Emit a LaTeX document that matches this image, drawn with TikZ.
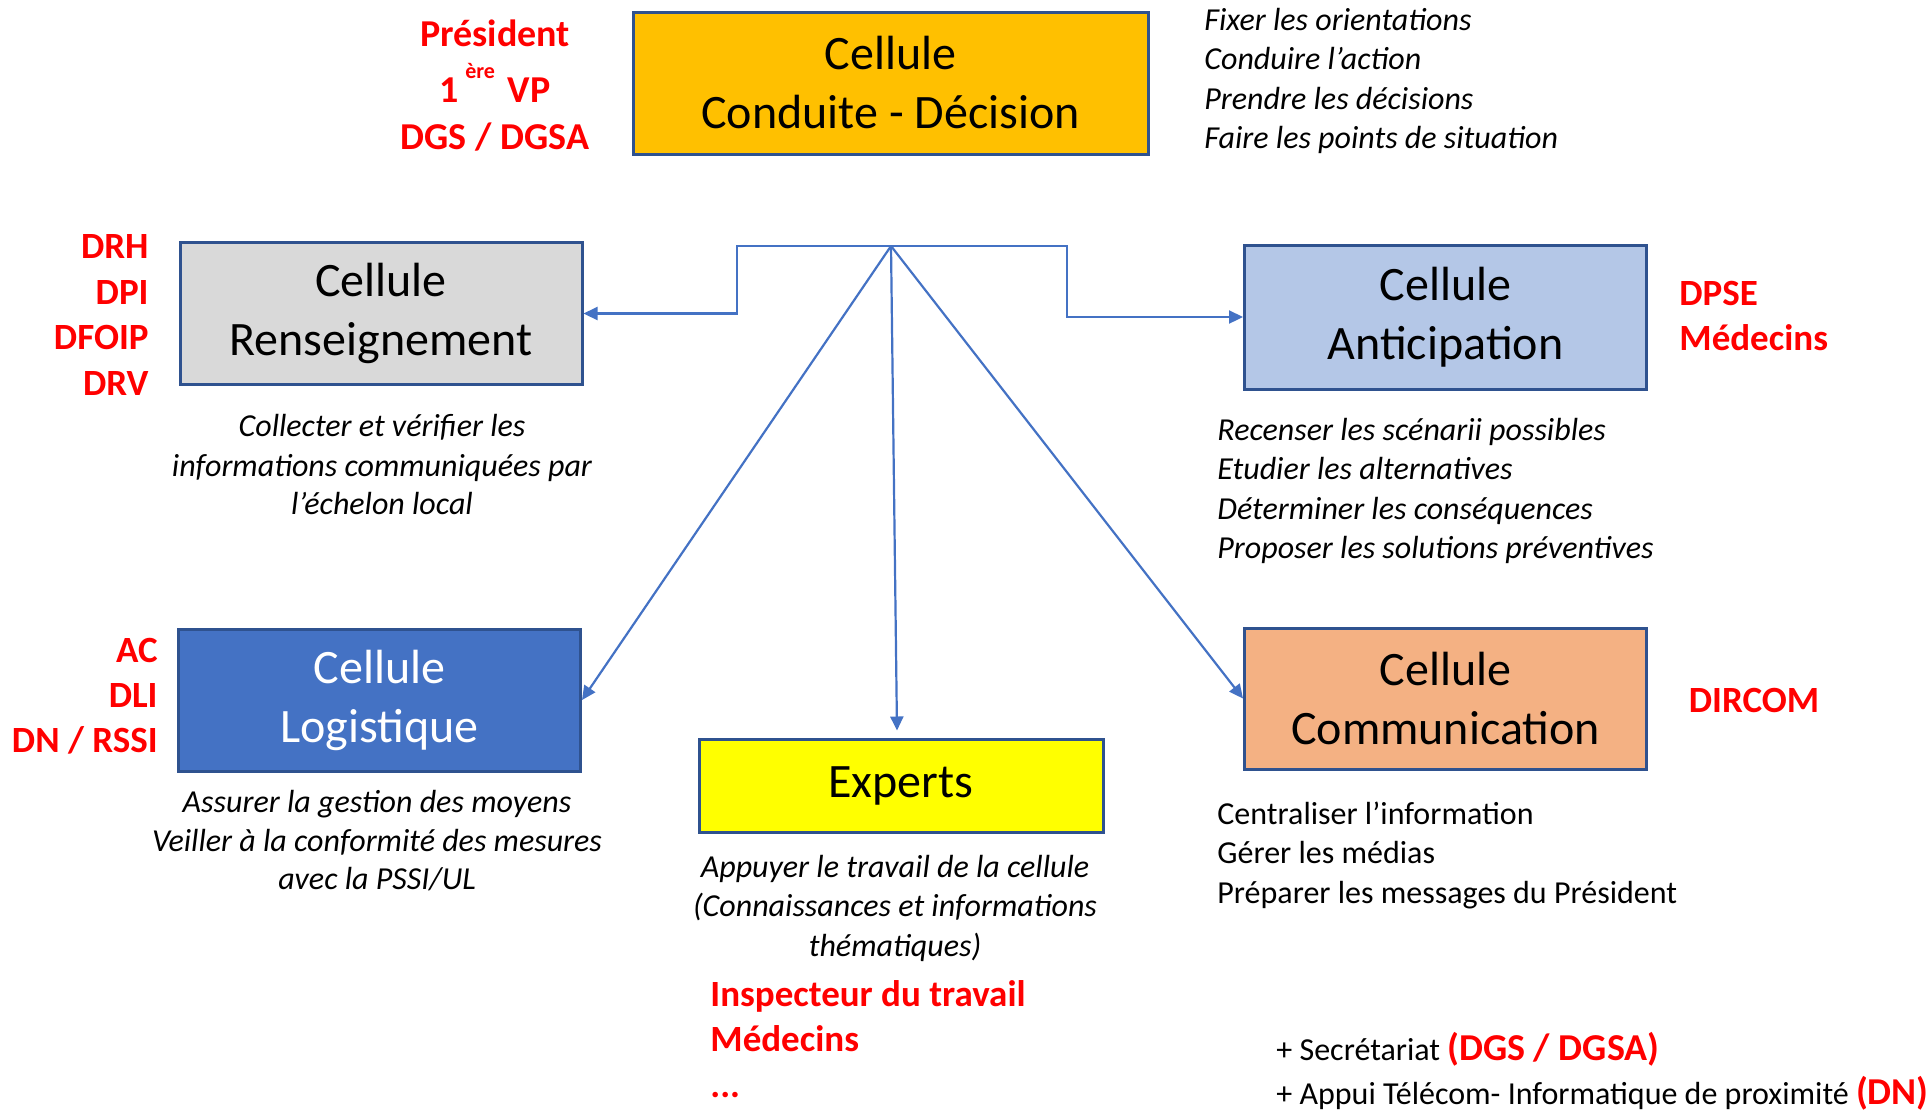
\documentclass[tikz,border=0pt]{standalone}
\usepackage{fontspec}
\setmainfont{Carlito}
\usetikzlibrary{arrows.meta,calc}
\definecolor{boxedge}{HTML}{2F528F}
\definecolor{linkblue}{HTML}{4472C4}
\definecolor{cgold}{HTML}{FFC000}
\definecolor{cgrey}{HTML}{D9D9D9}
\definecolor{clight}{HTML}{B4C7E7}
\definecolor{cblue}{HTML}{4472C4}
\definecolor{cyellow}{HTML}{FFFF00}
\definecolor{corange}{HTML}{F4B183}
\definecolor{tred}{HTML}{FF0000}
\begin{document}
\begin{tikzpicture}[x=0.5pt,y=-0.5pt,
  cellbox/.style={draw=boxedge, line width=1.5pt, minimum width=201pt,
    minimum height=71pt, inner sep=0pt, align=center,
    font=\fontsize{24}{29.5}\selectfont},
  redlbl/.style={text=tred, inner sep=0pt, font=\bfseries\fontsize{18.5}{22.75}\selectfont},
  toplbl/.style={redlbl, font=\bfseries\fontsize{19}{23}\selectfont, anchor=base},
  desc/.style={inner sep=0pt, font=\itshape\fontsize{16}{19.5}\selectfont},
  plain/.style={inner sep=0pt, font=\fontsize{16}{19.5}\selectfont},
  arr/.style={draw=linkblue, line width=1.1pt, -{Triangle[length=7pt,width=6.5pt]}}]
\useasboundingbox (0,0) rectangle (1930,1110);

% cells
\node[cellbox, fill=cgold, minimum width=257.5pt] (cond) at (890.5,83) {Cellule\\Conduite - Décision};
\node[cellbox, fill=cgrey] (rens) at (381,313.5) {Cellule\\Renseignement};
\node[cellbox, fill=clight, minimum height=72pt] (antic) at (1445.5,317) {Cellule\\Anticipation};
\node[cellbox, fill=cblue, text=white] (logi) at (379.5,700) {Cellule\\Logistique};
\node[cellbox, fill=cyellow, minimum width=202pt, minimum height=46.5pt] (exp) at (901,785.5) {Experts};
\node[cellbox, fill=corange, minimum height=70.5pt] (comm) at (1445.5,698.5) {Cellule\\Communication};

% leadership labels
\node[toplbl] (pres) at (495,46) {Président};
\node[toplbl] (vp) at (495,102) {1\,\raisebox{0.62em}{\fontsize{11}{11}\selectfont ère}\,\,VP};
\node[toplbl] (dgs) at (495,149) {DGS / DGSA};

\node[desc, anchor=base west] (c1) at (1204,30) {Fixer les orientations};
\node[desc, anchor=base west] (c2) at (1204,69) {Conduire l’action};
\node[desc, anchor=base west] (c3) at (1204,109) {Prendre les décisions};
\node[desc, anchor=base west] (c4) at (1204,148) {Faire les points de situation};

% renseignement
\node[redlbl, anchor=base east] (drh) at (149,258) {DRH};
\node[redlbl, anchor=base east] (dpi) at (149,304) {DPI};
\node[redlbl, anchor=base east] (dfoip) at (149,349) {DFOIP};
\node[redlbl, anchor=base east] (drv) at (149,395) {DRV};
\node[desc, anchor=base] (r1) at (382,436) {Collecter et vérifier les};
\node[desc, anchor=base] (r2) at (382,476) {informations communiquées par};
\node[desc, anchor=base] (r3) at (382,514) {l’échelon local};

% anticipation
\node[redlbl, anchor=base west] (dpse) at (1679,305) {DPSE};
\node[redlbl, anchor=base west] (med1) at (1679,350) {Médecins};
\node[desc, anchor=base west] (a1) at (1217,440) {Recenser les scénarii possibles};
\node[desc, anchor=base west] (a2) at (1217,479) {Etudier les alternatives};
\node[desc, anchor=base west] (a3) at (1217,519) {Déterminer les conséquences};
\node[desc, anchor=base west] (a4) at (1217,558) {Proposer les solutions préventives};

% logistique
\node[redlbl, anchor=base east] (ac) at (158,662) {AC};
\node[redlbl, anchor=base east] (dli) at (158,707) {DLI};
\node[redlbl, anchor=base east] (dn) at (158,752) {DN / RSSI};
\node[desc, anchor=base] (l1) at (377,812) {Assurer la gestion des moyens};
\node[desc, anchor=base] (l2) at (377,851) {Veiller à la conformité des mesures};
\node[desc, anchor=base] (l3) at (377,889) {avec la PSSI/UL};

% experts
\node[desc, anchor=base] (e1) at (895,877) {Appuyer le travail de la cellule};
\node[desc, anchor=base] (e2) at (895,916) {(Connaissances et informations};
\node[desc, anchor=base] (e3) at (895,956) {thématiques)};
\node[redlbl, anchor=base west] (insp) at (710,1006) {Inspecteur du travail};
\node[redlbl, anchor=base west] (med2) at (710,1051) {Médecins};
\node[redlbl, anchor=base west] (etc) at (710,1097) {...};

% communication
\node[redlbl, anchor=base] (dircom) at (1754,712) {DIRCOM};
\node[plain, anchor=base west] (m1) at (1217,824) {Centraliser l’information};
\node[plain, anchor=base west] (m2) at (1217,863) {Gérer les médias};
\node[plain, anchor=base west] (m3) at (1217,903) {Préparer les messages du Président};

% support functions
\node[plain, anchor=base west] (sec) at (1276,1060)
  {+ Secrétariat {\color{tred}\bfseries\fontsize{19}{23}\selectfont(DGS / DGSA)}};
\node[plain, anchor=base west] (tel) at (1276,1104)
  {+ Appui Télécom- Informatique de proximité {\color{tred}\bfseries\fontsize{19}{23}\selectfont(DN)}};

% connectors from the decision hub
\coordinate (hub) at (891,246);
\draw[arr] (hub) -- ++(-154,0) |- (rens.east);
\draw[arr] (hub) -- ++(176,0) |- (antic.west);
\draw[arr] (hub) -- (logi.east);
\draw[arr] (hub) -- (comm.west);
\draw[arr] (hub) -- ($(exp.north)+(-4,-7)$);
\end{tikzpicture}
\end{document}
